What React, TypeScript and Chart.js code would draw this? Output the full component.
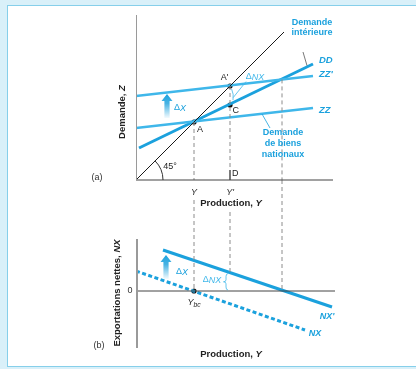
import React, { useEffect, useRef } from "react";
import { Chart, registerables } from "chart.js";
Chart.register(...registerables);

// ---------- data (diagram units) ----------
// panel (a): demand Z against production Y
const line45X = [0, 7.4];
const line45Y = [0, 7.4];
const zzX = [0, 8.85];
const zzY = [2.6, 3.6];
const zzPrimeY = [4.2, 5.2];
const ddX = [0.15, 8.85];
const ddY = [1.6, 5.8];
const eqLabels = ["A", "A'", "C"];
const eqX = [2.9, 4.7, 4.7];
const eqY = [2.9, 4.7, 3.75];
const outputLevels = [2.9, 4.7, 7.3]; // Y, Y', trade-balance level
const zzPrimeAtTB = 5.03;
// panel (b): net exports NX
const nxX = [0, 8.45];
const nxY = [1.0, -1.95];
const nxPrimeX = [1.35, 9.8];
const nxPrimeY = [2.05, -0.8];
const nxPrimeAtYprime = 0.92;
const nxTickLabels = ["0"];

const BLUE = "#1ba1dd";
const LIGHTBLUE = "#3fb7ea";
const GRAY_DASH = "#8c8c8c";
const FONT = "'Liberation Sans', Arial, sans-serif";

const pts = (xs: number[], ys: number[]) => xs.map((x, i) => ({ x, y: ys[i] }));

type Part = [string, string?];
function rich(ctx: CanvasRenderingContext2D, parts: Part[], x: number, y: number, size: number, color: string, align: "left" | "center" | "right" = "left") {
  const fontFor = (s?: string) => {
    const st = s || "";
    const it = st.includes("i") ? "italic " : "";
    const b = st.includes("b") ? "bold " : "";
    const sz = st.includes("s") ? size * 0.75 : size;
    return `${it}${b}${sz}px ${FONT}`;
  };
  let total = 0;
  for (const [t, s] of parts) {
    ctx.font = fontFor(s);
    total += ctx.measureText(t).width;
  }
  let cx = align === "left" ? x : align === "center" ? x - total / 2 : x - total;
  ctx.fillStyle = color;
  ctx.textBaseline = "middle";
  ctx.textAlign = "left";
  for (const [t, s] of parts) {
    ctx.font = fontFor(s);
    const dy = (s || "").includes("s") ? size * 0.3 : 0;
    ctx.fillText(t, cx, y + dy);
    cx += ctx.measureText(t).width;
  }
}

function gradArrow(ctx: CanvasRenderingContext2D, x: number, yb: number, yt: number) {
  const g = ctx.createLinearGradient(0, yb, 0, yt);
  g.addColorStop(0, "rgba(27,161,221,0.05)");
  g.addColorStop(0.6, "rgba(27,161,221,0.8)");
  g.addColorStop(1, BLUE);
  ctx.fillStyle = g;
  const hw = 2.6, hh = 7, head = 5.5;
  ctx.beginPath();
  ctx.moveTo(x - hw, yb);
  ctx.lineTo(x - hw, yt + hh);
  ctx.lineTo(x - head, yt + hh);
  ctx.lineTo(x, yt);
  ctx.lineTo(x + head, yt + hh);
  ctx.lineTo(x + hw, yt + hh);
  ctx.lineTo(x + hw, yb);
  ctx.closePath();
  ctx.fill();
}

const overlay = {
  id: "overlay",
  afterDatasetsDraw(chart: any) {
    const ctx: CanvasRenderingContext2D = chart.ctx;
    const sx = chart.scales.x, sa = chart.scales.yA, sb = chart.scales.yB;
    const X = (v: number) => sx.getPixelForValue(v);
    const A = (v: number) => sa.getPixelForValue(v);
    const B = (v: number) => sb.getPixelForValue(v);
    ctx.save();

    // 45° arc
    ctx.strokeStyle = "#333";
    ctx.lineWidth = 1;
    ctx.beginPath();
    ctx.arc(X(0), A(0), 27, -Math.PI / 4, 0);
    ctx.stroke();

    // arrows ΔX
    gradArrow(ctx, X(1.55), A(3.1), A(4.3));
    gradArrow(ctx, X(1.5), B(0.6), B(1.8));

    // leader lines
    ctx.strokeStyle = "#555";
    ctx.lineWidth = 0.8;
    ctx.beginPath();
    ctx.moveTo(X(8.35), A(6.4));
    ctx.lineTo(X(8.55), A(5.72));
    ctx.stroke();
    ctx.strokeStyle = BLUE;
    ctx.beginPath();
    ctx.moveTo(X(6.3), A(3.3));
    ctx.lineTo(X(6.7), A(2.6));
    ctx.stroke();

    // ΔNX bracket panel (a)
    ctx.strokeStyle = LIGHTBLUE;
    ctx.lineWidth = 0.8;
    ctx.beginPath();
    ctx.moveTo(X(4.78), A(4.55));
    ctx.quadraticCurveTo(X(4.9), A(4.3), X(4.85), A(4.0));
    ctx.moveTo(X(4.86), A(4.12));
    ctx.lineTo(X(5.5), A(4.92));
    ctx.stroke();

    // ΔNX brace panel (b)
    {
      const bx = X(4.5), t = B(nxPrimeAtYprime - 0.05), b = B(0.05), m = (t + b) / 2;
      ctx.beginPath();
      ctx.moveTo(bx + 2, t);
      ctx.quadraticCurveTo(bx, t, bx, t + 3);
      ctx.lineTo(bx, m - 2);
      ctx.quadraticCurveTo(bx, m, bx - 2.5, m);
      ctx.quadraticCurveTo(bx, m, bx, m + 2);
      ctx.lineTo(bx, b - 3);
      ctx.quadraticCurveTo(bx, b, bx + 2, b);
      ctx.stroke();
    }

    const dark = "#222";
    // panel (a) texts
    rich(ctx, [["45°"]], X(1.7), A(0.65), 9, dark, "center");
    rich(ctx, [["A"]], X(3.05), A(2.5), 9, dark, "left");
    rich(ctx, [["A'"]], X(4.62), A(5.1), 9, dark, "right");
    rich(ctx, [["C"]], X(4.82), A(3.45), 9, dark, "left");
    rich(ctx, [["D"]], X(4.8), A(0.3), 9, dark, "left");
    rich(ctx, [["Δ"], ["NX", "i"]], X(5.95), A(5.15), 9, LIGHTBLUE, "center");
    rich(ctx, [["Δ"], ["X", "i"]], X(2.2), A(3.6), 9, BLUE, "center");
    rich(ctx, [["Y", "i"]], X(outputLevels[0]), A(-0.6), 9, dark, "center");
    rich(ctx, [["Y'", "i"]], X(outputLevels[1]), A(-0.6), 9, dark, "center");
    rich(ctx, [["Production, ", "b"], ["Y", "bi"]], X(4.75), A(-1.15), 9.5, dark, "center");
    rich(ctx, [["Demande", "b"]], X(8.8), A(7.85), 9, BLUE, "center");
    rich(ctx, [["intérieure", "b"]], X(8.8), A(7.35), 9, BLUE, "center");
    rich(ctx, [["DD", "bi"]], X(9.15), A(6.0), 9.5, BLUE, "left");
    rich(ctx, [["ZZ'", "bi"]], X(9.15), A(5.3), 9.5, BLUE, "left");
    rich(ctx, [["ZZ", "bi"]], X(9.15), A(3.5), 9.5, BLUE, "left");
    rich(ctx, [["Demande", "b"]], X(7.35), A(2.35), 9, BLUE, "center");
    rich(ctx, [["de biens", "b"]], X(7.35), A(1.8), 9, BLUE, "center");
    rich(ctx, [["nationaux", "b"]], X(7.35), A(1.25), 9, BLUE, "center");
    rich(ctx, [["(a)"]], X(-1.95), A(0.1), 9, "#333", "center");

    // panel (b) texts
    rich(ctx, [[nxTickLabels[0]]], X(-0.18), B(0), 9, "#333", "right");
    rich(ctx, [["Y", "i"], ["bc", "is"]], X(2.9), B(-0.55), 9, dark, "center");
    rich(ctx, [["Δ"], ["X", "i"]], X(2.3), B(0.95), 9, BLUE, "center");
    rich(ctx, [["Δ"], ["NX", "i"]], X(3.8), B(0.55), 9, LIGHTBLUE, "center");
    rich(ctx, [["NX'", "bi"]], X(9.55), B(-1.3), 9, BLUE, "center");
    rich(ctx, [["NX", "bi"]], X(8.95), B(-2.15), 9, BLUE, "center");
    rich(ctx, [["Production, ", "b"], ["Y", "bi"]], X(4.75), B(-3.15), 9.5, dark, "center");
    rich(ctx, [["(b)"]], X(-1.85), B(-2.75), 9, "#333", "center");

    // rotated axis titles
    ctx.save();
    ctx.translate(X(-0.7), A(3.4));
    ctx.rotate(-Math.PI / 2);
    rich(ctx, [["Demande, ", "b"], ["Z", "bi"]], 0, 0, 9.5, dark, "center");
    ctx.restore();
    ctx.save();
    ctx.translate(X(-0.95), B(-0.1));
    ctx.rotate(-Math.PI / 2);
    rich(ctx, [["Exportations nettes, ", "b"], ["NX", "bi"]], 0, 0, 9.5, dark, "center");
    ctx.restore();

    ctx.restore();
  },
};

export default function App() {
  const ref = useRef<HTMLCanvasElement>(null);
  useEffect(() => {
    if (!ref.current) return;
    const line = (data: any[], color: string, width: number, yAxisID: string, dash: number[] = []) => ({
      type: "scatter" as const,
      data,
      showLine: true,
      borderColor: color,
      backgroundColor: color,
      borderWidth: width,
      borderDash: dash,
      pointRadius: 0,
      yAxisID,
      borderCapStyle: "butt",
    });
    const [yL, yP, yT] = outputLevels;
    const datasets: any[] = [
      // axes (a)
      line([{ x: 0, y: 0 }, { x: 0, y: 8.25 }], "#9a9a9a", 2, "yA"),
      line([{ x: 0, y: 0 }, { x: 9.85, y: 0 }], "#444", 1.2, "yA"),
      // axes (b)
      line([{ x: 0.05, y: 2.6 }, { x: 0.05, y: -2.85 }], "#9a9a9a", 2, "yB"),
      line([{ x: 0.05, y: 0 }, { x: 9.95, y: 0 }], "#444", 1, "yB"),
      // dashed guides
      line([{ x: yL, y: eqY[0] }, { x: yL, y: 0 }], GRAY_DASH, 1, "yA", [4, 3]),
      line([{ x: yL, y: 4.55 }, { x: yL, y: 0 }], GRAY_DASH, 1, "yB", [4, 3]),
      line([{ x: yP, y: eqY[1] }, { x: yP, y: 0.5 }], GRAY_DASH, 1, "yA", [4, 3]),
      line([{ x: yP, y: 0.5 }, { x: yP, y: 0 }], "#222", 1.2, "yA"),
      line([{ x: yP, y: 3.95 }, { x: yP, y: nxPrimeAtYprime }], GRAY_DASH, 1, "yB", [4, 3]),
      line([{ x: yT, y: zzPrimeAtTB }, { x: yT, y: 0 }], GRAY_DASH, 1, "yA", [4, 3]),
      line([{ x: yT, y: 5.55 }, { x: yT, y: 0 }], GRAY_DASH, 1, "yB", [4, 3]),
      // curves (a)
      line(pts(line45X, line45Y), "#1a1a1a", 1, "yA"),
      line(pts(zzX, zzY), LIGHTBLUE, 2.6, "yA"),
      line(pts(zzX, zzPrimeY), LIGHTBLUE, 2.6, "yA"),
      line(pts(ddX, ddY), BLUE, 3, "yA"),
      // curves (b)
      line(pts(nxX, nxY), BLUE, 3, "yB", [4, 2.5]),
      line(pts(nxPrimeX, nxPrimeY), BLUE, 3, "yB"),
      // points
      {
        type: "scatter",
        data: pts(eqX, eqY),
        pointRadius: 2.6,
        pointBackgroundColor: "#111",
        pointBorderWidth: 0,
        yAxisID: "yA",
      },
      {
        type: "scatter",
        data: [{ x: yL, y: 0 }],
        pointRadius: 2.6,
        pointBackgroundColor: "#111",
        pointBorderWidth: 0,
        yAxisID: "yB",
      },
    ];
    const chart = new Chart(ref.current, {
      type: "scatter",
      data: { datasets },
      options: {
        animation: false,
        responsive: false,
        events: [],
        layout: { padding: { left: 136, right: 80, top: 15, bottom: 21 } },
        plugins: { legend: { display: false }, tooltip: { enabled: false } },
        scales: {
          x: { type: "linear", min: 0, max: 10, display: false },
          yA: { type: "linear", min: -8.4, max: 8.25, display: false },
          yB: { type: "linear", min: -2.85, max: 13.8, display: false },
        },
      } as any,
      plugins: [overlay],
    });
    return () => chart.destroy();
  }, []);
  return (
    <div style={{ position: "absolute", left: 0, top: 0, width: 416, height: 369, background: "#d9f0f9" }}>
      <div
        style={{
          position: "absolute",
          left: 7,
          top: 5,
          width: 409,
          height: 360,
          background: "#fff",
          borderLeft: "1px solid #86cfea",
          borderTop: "1px solid #86cfea",
          borderBottom: "1px solid #86cfea",
        }}
      />
      <canvas ref={ref} width={416} height={369} style={{ position: "absolute", left: 0, top: 0 }} />
    </div>
  );
}
